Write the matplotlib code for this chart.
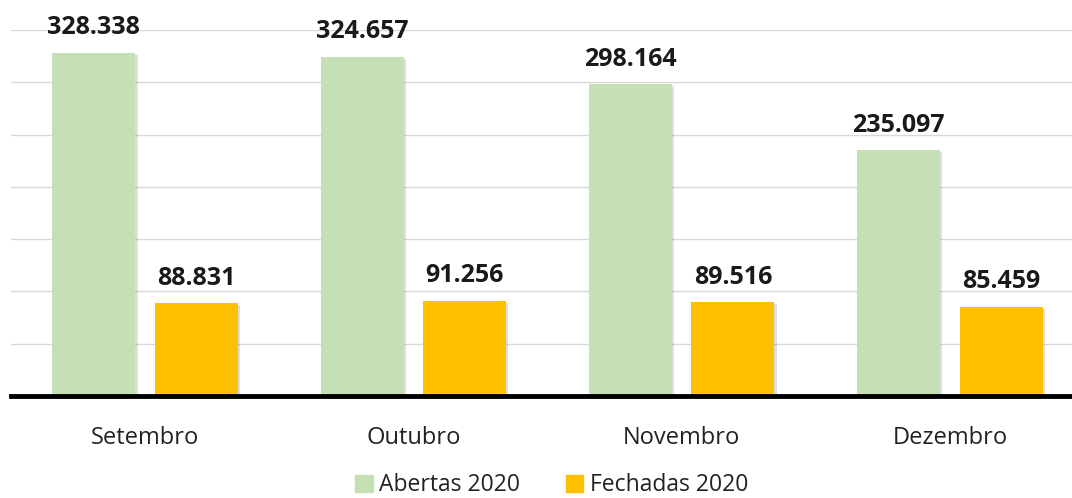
import numpy as np
import matplotlib.pyplot as plt
import matplotlib.patheffects as pe

months = ["Setembro", "Outubro", "Novembro", "Dezembro"]
abertas = [328338, 324657, 298164, 235097]
fechadas = [88831, 91256, 89516, 85459]
labels_ab = ["328.338", "324.657", "298.164", "235.097"]
labels_fe = ["88.831", "91.256", "89.516", "85.459"]

plt.rcParams['font.family'] = ['Open Sans', 'DejaVu Sans']

fig = plt.figure(figsize=(10.72, 4.98), dpi=100)
ax = fig.add_axes([11/1072, 1 - 396/498, 1061/1072, 366/498])

x = np.arange(len(months))
w = 0.31
off = 0.191
shadow = [pe.SimplePatchShadow(offset=(1.5, -1.5), alpha=0.25, shadow_rgbFace="gray"), pe.Normal()]
b1 = ax.bar(x - off, abertas, w, color="#c5e0b4", zorder=3)
b2 = ax.bar(x + off, fechadas, w, color="#ffc000", zorder=3)
for b in list(b1) + list(b2):
    b.set_path_effects(shadow)

for xi, v, t in zip(x - off, abertas, labels_ab):
    ax.annotate(t, (xi, v), xytext=(0, 9), textcoords="offset points",
                ha="center", va="bottom", fontsize=18, fontweight="bold", color="#1a1a1a")
for xi, v, t in zip(x + off, fechadas, labels_fe):
    ax.annotate(t, (xi, v), xytext=(0, 9), textcoords="offset points",
                ha="center", va="bottom", fontsize=18, fontweight="bold", color="#1a1a1a")

ax.set_ylim(0, 350000)
ax.set_xlim(-0.5, 3.455)
ax.set_yticks(np.arange(0, 350001, 50000))
ax.yaxis.grid(True, color="#d9d9d9", linewidth=1, zorder=0)
ax.set_axisbelow(True)
ax.tick_params(axis="y", left=False, labelleft=False)
ax.tick_params(axis="x", bottom=False, labelsize=17, pad=18, labelcolor="#222222")
ax.set_xticks(x)
ax.set_xticklabels(months)
for s in ["top", "right", "left"]:
    ax.spines[s].set_visible(False)
ax.spines["bottom"].set_linewidth(3.5)
ax.spines["bottom"].set_color("black")
ax.spines["bottom"].set_zorder(5)

# legend squares without the shadow
h1 = plt.Rectangle((0, 0), 1, 1, color="#c5e0b4")
h2 = plt.Rectangle((0, 0), 1, 1, color="#ffc000")
fig.legend([h1, h2], ["Abertas 2020", "Fechadas 2020"], loc="lower center",
           bbox_to_anchor=(0.515, -0.04), ncol=2, frameon=False,
           fontsize=16.5, handlelength=0.75, handleheight=0.75, handletextpad=0.3,
           columnspacing=2.0, labelcolor="#222222")

fig.savefig("out.png", dpi=100)
